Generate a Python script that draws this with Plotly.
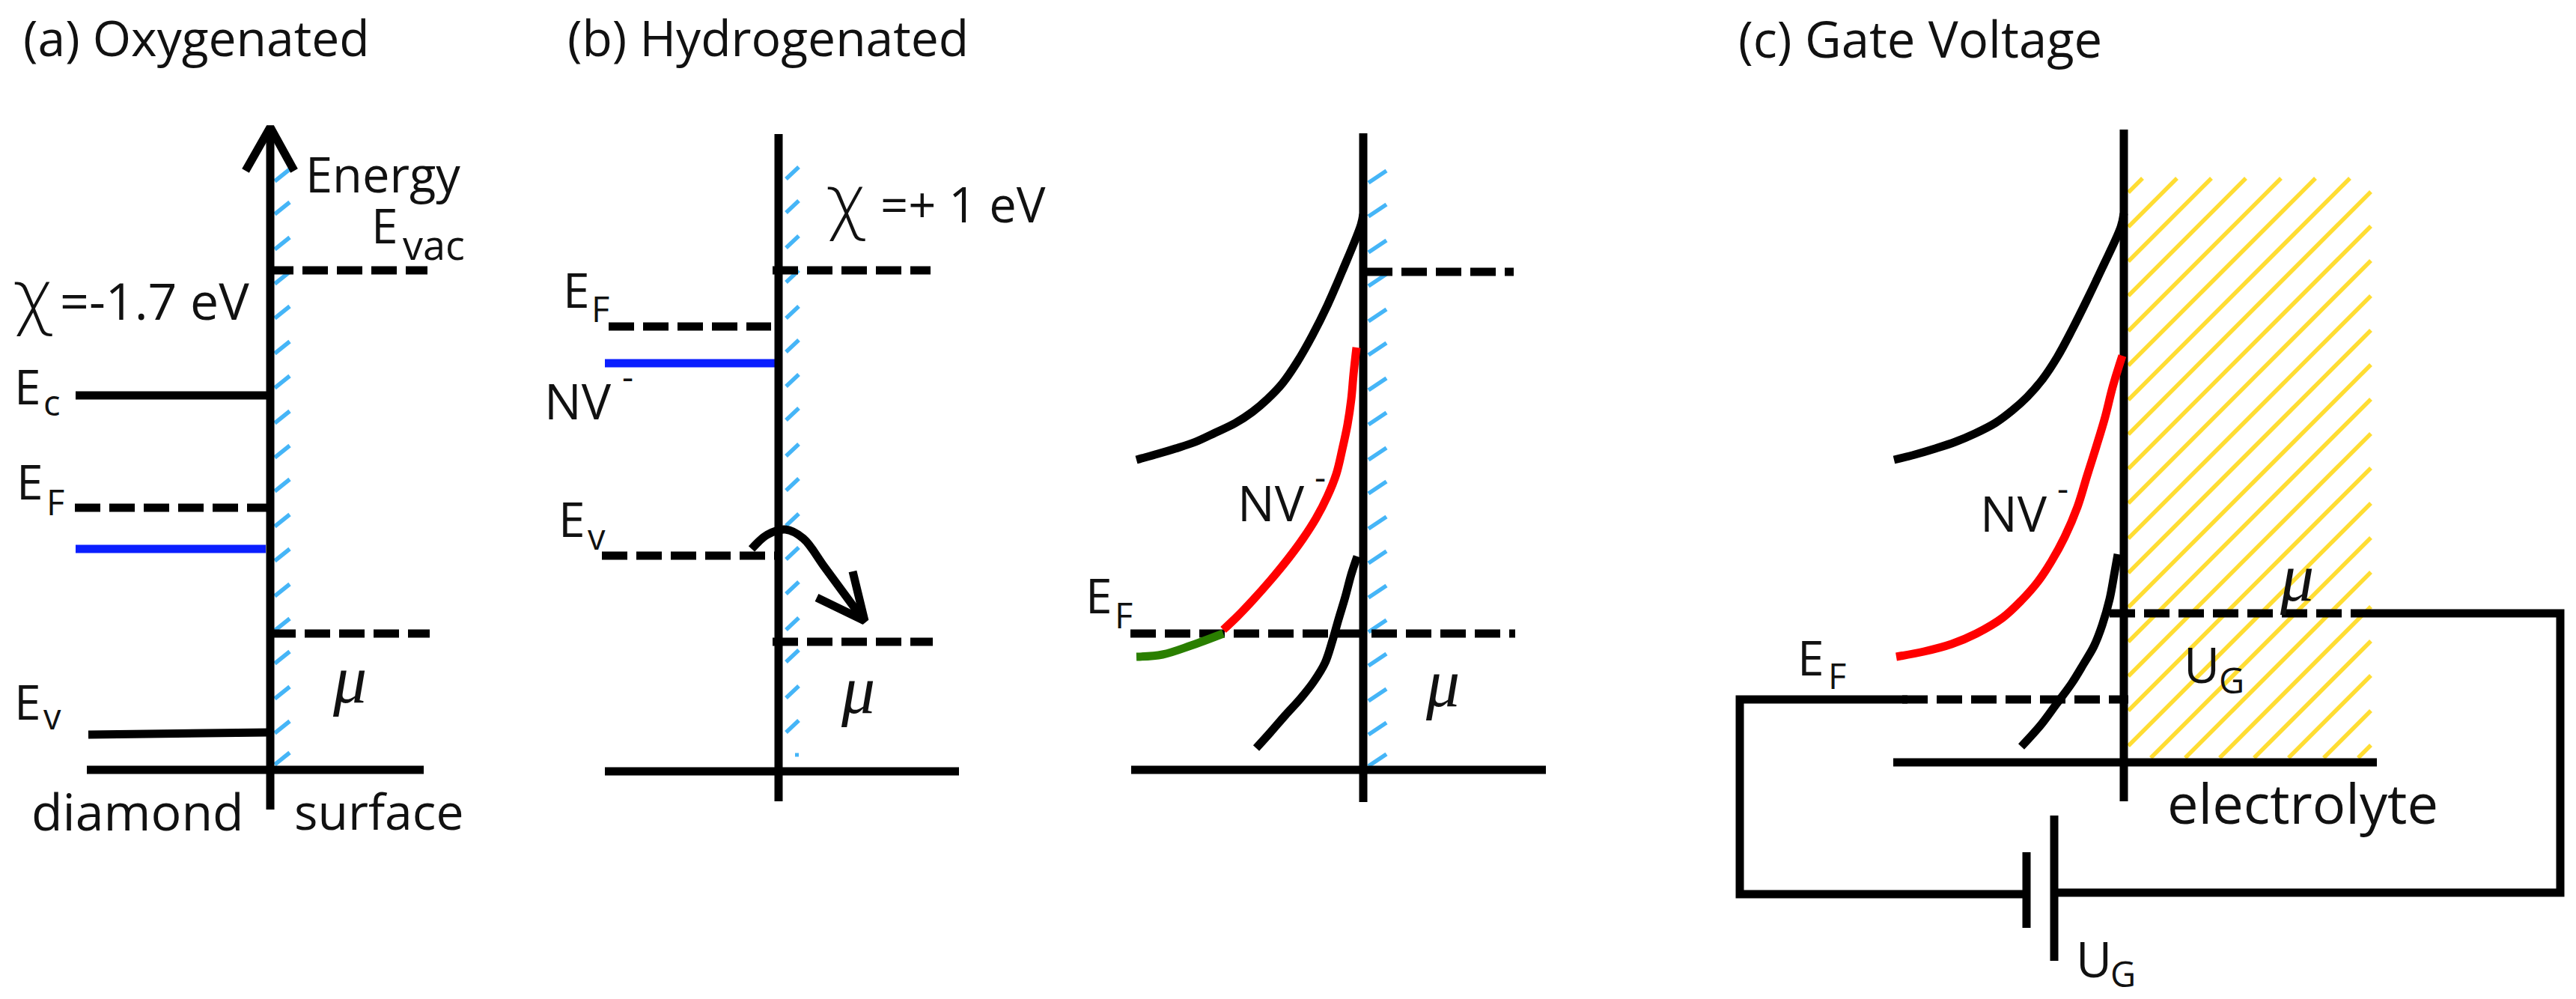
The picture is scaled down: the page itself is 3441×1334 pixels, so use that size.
# plot.py
"""Band diagrams at the diamond surface: oxygenated, hydrogenated, gate voltage."""

import plotly.graph_objects as go

BLACK = '#000000'
BLUE = '#0A1EFF'
RED = '#FF0000'
GREEN = '#2A7F00'
SKY = '#45B5F7'
YELLOW = '#FFDD33'

DASH = '34px,12px'
FONT = 'Open Sans'
SCRIPT = 'Liberation Serif'

# panel (a)
a_axis_x = [361, 361]
a_axis_y = [170, 1081]
a_head_x = [328, 361, 393]
a_head_y = [228, 170, 228]
a_ticks_y = [242, 286, 333, 379, 425, 472, 518, 565, 611, 656, 703, 749, 796, 842, 886, 933, 979, 1021]
a_ticks_x = [367, 387]
a_vac_x = [358, 571]
a_vac_y = [361, 361]
a_ec_x = [101, 359]
a_ec_y = [528, 528]
a_ef_x = [100, 359]
a_ef_y = [678, 678]
a_nv_x = [101, 355]
a_nv_y = [733, 733]
a_mu_x = [361, 574]
a_mu_y = [846, 846]
a_ev_x = [118, 359]
a_ev_y = [981, 978]
a_base_x = [116, 566]
a_base_y = [1028, 1028]

# panel (b), flat bands
b_axis_x = [1040, 1040]
b_axis_y = [179, 1070]
b_ticks_y = [239, 284, 331, 377, 425, 470, 516, 561, 609, 655, 702, 747, 793, 841, 884, 932, 978]
b_ticks_x = [1050, 1067]
b_vac_x = [1032, 1243]
b_vac_y = [361, 361]
b_ef_x = [813, 1030]
b_ef_y = [436, 436]
b_nv_x = [808, 1035]
b_nv_y = [485, 485]
b_ev_x = [804, 1035]
b_ev_y = [742, 742]
b_mu_x = [1032, 1246]
b_mu_y = [857, 857]
b_base_x = [808, 1281]
b_base_y = [1030, 1030]
b_hop_x = [1004, 1025, 1049, 1073, 1102, 1155]
b_hop_y = [733, 714, 707, 719, 758, 830]
b_hop_head_x = [1091, 1155, 1139]
b_hop_head_y = [798, 829, 763]

# panel (b), bent bands
b2_axis_x = [1821, 1821]
b2_axis_y = [178, 1071]
b2_ticks_y = [244, 289, 337, 382, 429, 474, 521, 567, 614, 659, 706, 752, 798, 844, 889, 936, 981, 1023]
b2_ticks_x = [1828, 1852]
b2_vac_x = [1826, 2022]
b2_vac_y = [363, 363]
b2_mu_x = [1510, 2024]
b2_mu_y = [846, 846]
b2_base_x = [1511, 2065]
b2_base_y = [1028, 1028]
b2_ec_x = [1518, 1543, 1570, 1597, 1623, 1650, 1673, 1693, 1713, 1733, 1753, 1773, 1793, 1818, 1821]
b2_ec_y = [614, 607, 599, 590, 578, 565, 550, 533, 512, 483, 448, 408, 362, 300, 286]
b2_red_x = [1634, 1653, 1673, 1697, 1720, 1740, 1758, 1773, 1785, 1793, 1800, 1805, 1808, 1812]
b2_red_y = [841, 823, 802, 775, 747, 720, 692, 663, 633, 600, 567, 533, 500, 464]
b2_green_x = [1518, 1553, 1591, 1634]
b2_green_y = [877, 874, 862, 846]
b2_ev_x = [1678, 1697, 1717, 1737, 1755, 1770, 1780, 1788, 1797, 1805, 1813]
b2_ev_y = [999, 978, 955, 933, 910, 885, 855, 827, 797, 767, 743]

# panel (c)
c_axis_x = [2837, 2837]
c_axis_y = [173, 1070]
c_hatch_left = 2843
c_hatch_right = 3167
c_hatch_top = 238
c_hatch_bottom = 1012
c_hatch_sums = [3100, 3146, 3192, 3238, 3285, 3331, 3377, 3423, 3469, 3515, 3562, 3608,
                3654, 3700, 3746, 3792, 3839, 3885, 3931, 3977, 4023, 4069, 4116, 4162]
c_ec_x = [2530, 2558, 2585, 2612, 2638, 2665, 2688, 2708, 2728, 2748, 2768, 2788, 2808, 2833, 2837]
c_ec_y = [614, 607, 599, 590, 579, 565, 548, 530, 507, 477, 440, 400, 358, 303, 285]
c_red_x = [2533, 2570, 2607, 2640, 2675, 2700, 2722, 2740, 2758, 2775, 2788, 2800, 2812, 2822, 2835]
c_red_y = [877, 870, 860, 846, 825, 802, 777, 750, 717, 677, 635, 597, 557, 517, 475]
c_ev_x = [2700, 2727, 2747, 2767, 2783, 2797, 2808, 2818, 2824, 2829]
c_ev_y = [997, 967, 940, 913, 887, 863, 835, 800, 768, 740]
c_mu_x = [2818, 3167]
c_mu_y = [819, 819]
c_right_wire_x = [3167, 3420, 3420, 2744]
c_right_wire_y = [819, 819, 1192, 1192]
c_left_wire_x = [2707, 2324, 2324, 2548]
c_left_wire_y = [1194, 1194, 934, 934]
c_ef_x = [2541, 2843]
c_ef_y = [934, 934]
c_base_x = [2529, 3175]
c_base_y = [1018, 1018]
c_long_plate_x = [2744, 2744]
c_long_plate_y = [1089, 1283]
c_short_plate_x = [2707, 2707]
c_short_plate_y = [1138, 1239]

# text, anchored at its left edge and vertical middle
big_text = ["(a) Oxygenated", "(b) Hydrogenated", "(c) Gate Voltage",
            "Energy", "=-1.7 eV", "=+ 1 eV", "diamond", "surface", "electrolyte",
            "E", "E", "E", "E", "E", "E", "E", "E",
            "NV", "NV", "NV", "U", "U"]
big_x = [29, 756, 2320,
         406, 78, 1174, 40, 391, 2893,
         494, 17, 20, 17, 750, 744, 1448, 2399,
         725, 1651, 2643, 2915, 2771]
big_y = [49, 49, 51,
         232, 400, 272, 1082, 1082, 1071,
         300, 515, 642, 936, 386, 692, 794, 877,
         534, 670, 684, 886, 1279]
big_size = [66, 66, 67,
            65, 68, 65, 68, 66, 74,
            64, 64, 64, 64, 64, 64, 64, 64,
            66, 66, 66, 66, 66]

small_text = ["vac", "c", "F", "v", "F", "v", "F", "F", "G", "G"]
small_x = [536, 56, 60, 56, 788, 783, 1487, 2440, 2962, 2817]
small_y = [326, 537, 670, 956, 412, 716, 821, 902, 908, 1300]
small_size = [54, 47, 47, 47, 47, 47, 47, 47, 47, 47]

minus_text = ["-", "-", "-"]
minus_x = [829, 1754, 2746]
minus_y = [502, 636, 651]

chi_text = ["χ", "χ"]
chi_x = [15, 1101]
chi_y = [396, 269]

mu_text = ["μ", "μ", "μ", "μ"]
mu_x = [442, 1121, 1902, 3043]
mu_y = [907, 921, 912, 771]


fig = go.Figure()


def draw(x, y, color=BLACK, width=11, dash=None, smooth=False):
    """Add one polyline to the figure."""
    fig.add_trace(go.Scatter(
        x=x, y=y, mode='lines', hoverinfo='skip', showlegend=False,
        line=dict(color=color, width=width, dash=dash,
                  shape='spline' if smooth else 'linear', smoothing=1.0),
    ))


def draw_ticks(ticks_x, ticks_y):
    """Blue surface hatching: one rising stroke for every y."""
    xs, ys = [], []
    for y in ticks_y:
        xs += [ticks_x[0], ticks_x[1], None]
        ys += [y, y - 16, None]
    draw(xs, ys, color=SKY, width=5.5)


def draw_hatch():
    """Yellow electrolyte hatching, lines of constant x + y clipped to the box."""
    xs, ys = [], []
    for s in c_hatch_sums:
        x0 = max(c_hatch_left, s - c_hatch_bottom)
        x1 = min(c_hatch_right, s - c_hatch_top)
        xs += [x0, x1, None]
        ys += [s - x0, s - x1, None]
    draw(xs, ys, color=YELLOW, width=5.5)


def label(texts, xs, ys, sizes, family=FONT, italic=False):
    for text, x, y, size in zip(texts, xs, ys, sizes):
        fig.add_annotation(
            x=x, y=y, text=text, showarrow=False,
            xanchor='left', yanchor='middle',
            font=dict(family=family, size=size, color='#111111',
                      style='italic' if italic else 'normal'),
        )


draw_ticks(a_ticks_x, a_ticks_y)
draw_ticks(b_ticks_x, b_ticks_y)
draw_ticks(b2_ticks_x, b2_ticks_y)
draw([1062, 1067], [1008, 1008], color=SKY, width=5)
draw_hatch()

# (a)
draw(a_ec_x, a_ec_y)
draw(a_ev_x, a_ev_y)
draw(a_nv_x, a_nv_y, color=BLUE)
draw(a_base_x, a_base_y)
draw(a_ef_x, a_ef_y, dash=DASH)
draw(a_vac_x, a_vac_y, dash=DASH)
draw(a_mu_x, a_mu_y, dash=DASH)
draw(a_axis_x, a_axis_y)
draw(a_head_x, a_head_y)

# (b)
draw(b_nv_x, b_nv_y, color=BLUE)
draw(b_base_x, b_base_y)
draw(b_ef_x, b_ef_y, dash=DASH)
draw(b_ev_x, b_ev_y, dash=DASH)
draw(b_vac_x, b_vac_y, dash=DASH)
draw(b_mu_x, b_mu_y, dash=DASH)
draw(b_axis_x, b_axis_y)
draw(b_hop_x, b_hop_y, smooth=True)
draw(b_hop_head_x, b_hop_head_y)

# (b) bent
draw(b2_base_x, b2_base_y)
draw(b2_vac_x, b2_vac_y, dash=DASH)
draw(b2_mu_x, b2_mu_y, dash=DASH)
draw(b2_axis_x, b2_axis_y)
draw(b2_ec_x, b2_ec_y, smooth=True)
draw(b2_ev_x, b2_ev_y, smooth=True)
draw(b2_red_x, b2_red_y, color=RED, smooth=True)
draw(b2_green_x, b2_green_y, color=GREEN, smooth=True)

# (c)
draw(c_base_x, c_base_y)
draw(c_mu_x, c_mu_y, dash=DASH)
draw(c_ef_x, c_ef_y, dash=DASH)
draw(c_right_wire_x, c_right_wire_y)
draw(c_left_wire_x, c_left_wire_y)
draw(c_long_plate_x, c_long_plate_y)
draw(c_short_plate_x, c_short_plate_y)
draw(c_axis_x, c_axis_y)
draw(c_ec_x, c_ec_y, smooth=True)
draw(c_ev_x, c_ev_y, smooth=True)
draw(c_red_x, c_red_y, color=RED, smooth=True)

label(big_text, big_x, big_y, big_size)
label(small_text, small_x, small_y, small_size)
label(minus_text, minus_x, minus_y, [47] * len(minus_text))
label(chi_text, chi_x, chi_y, [96] * len(chi_text), family='DejaVu Sans Light')
label(mu_text, mu_x, mu_y, [90] * len(mu_text), family=SCRIPT, italic=True)

fig.update_layout(
    width=3441,
    height=1334,
    margin=dict(l=0, r=0, t=0, b=0),
    plot_bgcolor='white',
    paper_bgcolor='white',
    xaxis=dict(visible=False, range=[0, 3441]),
    yaxis=dict(visible=False, range=[1334, 0]),
)

fig.write_html("out.html", config=dict(displayModeBar=False),
               post_script="document.body.style.margin='0';")
